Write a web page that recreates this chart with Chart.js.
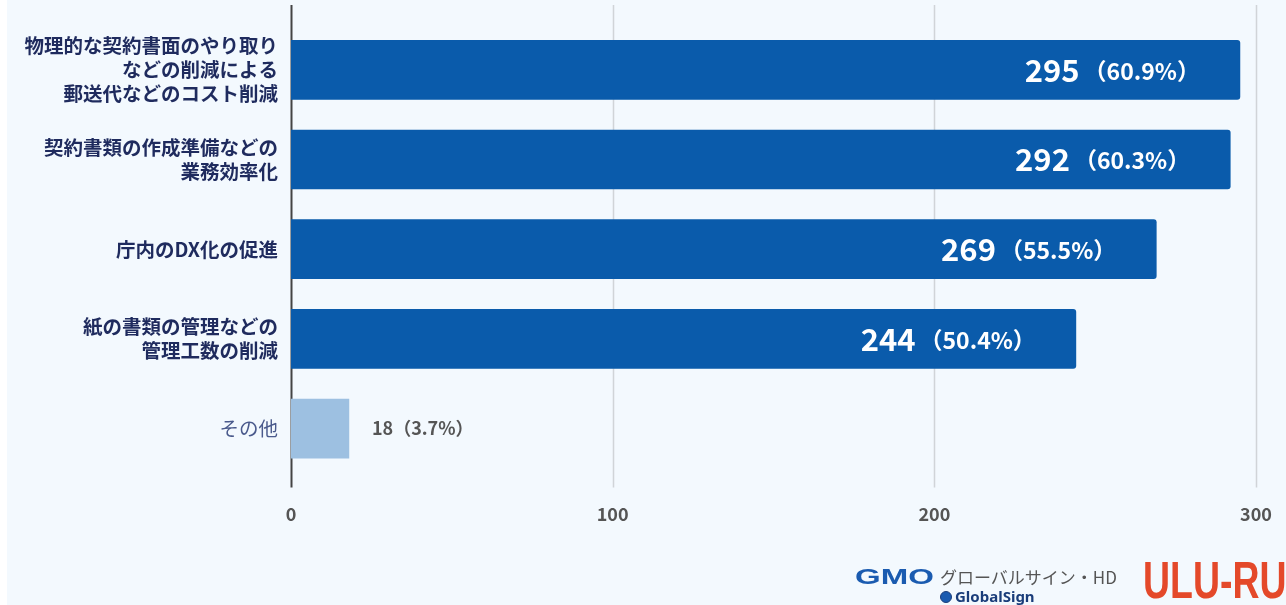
<!DOCTYPE html>
<html>
<head>
<meta charset="utf-8">
<script src="https://cdn.jsdelivr.net/npm/chart.js@4.4.1/dist/chart.umd.min.js"></script>
<style>
  html, body { margin: 0; padding: 0; background: #ffffff; }
  #wrap { position: absolute; left: 7px; top: 0; width: 1279px; height: 605px; background: #f3f9fe; overflow: hidden; }
  #box { position: absolute; left: -7px; top: 0; width: 1286px; height: 565px; }
  #wrap div { white-space: nowrap; }
  .gmo { position: absolute; left: 848px; top: 564px; font-family: "Liberation Sans", sans-serif; font-weight: bold; font-size: 22px; color: #1a5bb0; transform: scaleX(1.5); transform-origin: left top; }
  .gs-jp { position: absolute; left: 933px; top: 564px; font-family: "Noto Sans CJK JP", sans-serif; font-size: 17px; color: #555; }
  .gs-en { position: absolute; left: 933px; top: 586px; font-family: "Noto Sans", sans-serif; font-weight: bold; font-size: 15px; color: #1a3d7a; }
  .gs-en span { display: inline-block; width: 10px; height: 10px; border-radius: 50%; background: #1a5bb0; border: 1px solid #1a3d7a; margin-right: 3px; vertical-align: -1px; }
  .uluru { position: absolute; left: 1136px; top: 550px; font-family: "Liberation Sans", sans-serif; font-weight: bold; font-size: 52px; color: #e4492a; transform: scaleX(0.72); transform-origin: left top; }
</style>
</head>
<body>
<div id="wrap">
  <div id="box"><canvas id="chart"></canvas></div>
  <div class="gmo">GMO</div>
  <div class="gs-jp">グローバルサイン・HD</div>
  <div class="gs-en"><span></span>GlobalSign</div>
  <div class="uluru">ULU-RU</div>
</div>
<script>
// data
const categories = [
    ['物理的な契約書面のやり取り', 'などの削減による', '郵送代などのコスト削減'],
    ['契約書類の作成準備などの', '業務効率化'],
    ['庁内のDX化の促進'],
    ['紙の書類の管理などの', '管理工数の削減'],
    ['その他']
];
const counts = [295, 292, 269, 244, 18];
const percents = ['60.9', '60.3', '55.5', '50.4', '3.7'];
const xTicks = [0, 100, 200, 300];

const DARK = '#0a5bab';
const LIGHT = '#9dc0e1';
const JP = '"Noto Sans CJK JP", "Noto Sans", sans-serif';

// vertical grid lines extend a little past the plot area
const gridPlugin = {
    id: 'longGrid',
    beforeDatasetsDraw(chart) {
        const { ctx, chartArea, scales } = chart;
        ctx.save();
        xTicks.forEach(v => {
            const x = Math.round(scales.x.getPixelForValue(v)) + 0.5;
            ctx.beginPath();
            ctx.strokeStyle = v === 0 ? '#444444' : '#d0d4d8';
            ctx.lineWidth = v === 0 ? 2 : 1.5;
            ctx.moveTo(x, chartArea.top - 20);
            ctx.lineTo(x, chartArea.bottom + 14);
            ctx.stroke();
        });
        ctx.restore();
    }
};

// value labels on the bars
const valuePlugin = {
    id: 'values',
    afterDatasetsDraw(chart) {
        const { ctx } = chart;
        const meta = chart.getDatasetMeta(0);
        ctx.save();
        ctx.textBaseline = 'middle';
        meta.data.forEach((bar, i) => {
            const num = String(counts[i]);
            const pct = '（' + percents[i] + '%）';
            if (i < 4) {
                ctx.font = 'bold 23px ' + JP;
                const pw = ctx.measureText(pct).width;
                const right = bar.x - 40;
                ctx.fillStyle = '#ffffff';
                ctx.textAlign = 'right';
                ctx.fillText(pct, right, bar.y + 1);
                ctx.font = 'bold 31px ' + JP;
                ctx.fillText(num, right - pw - 4, bar.y);
            } else {
                ctx.fillStyle = '#555555';
                ctx.textAlign = 'left';
                ctx.font = 'bold 18px ' + JP;
                ctx.fillText(num + pct, bar.x + 23, bar.y);
            }
        });
        ctx.restore();
    }
};

new Chart(document.getElementById('chart'), {
    type: 'bar',
    data: {
        labels: categories,
        datasets: [{
            data: counts,
            backgroundColor: counts.map((v, i) => i < 4 ? DARK : LIGHT),
            borderRadius: counts.map((v, i) => i < 4 ? 3 : 0),
            borderSkipped: 'start',
            barThickness: 59
        }]
    },
    plugins: [gridPlugin, valuePlugin],
    options: {
        indexAxis: 'y',
        responsive: true,
        maintainAspectRatio: false,
        animation: false,
        layout: { padding: { top: 25, right: 30, bottom: 10, left: 0 } },
        plugins: {
            legend: { display: false },
            tooltip: { enabled: false }
        },
        scales: {
            x: {
                min: 0,
                max: 300,
                afterBuildTicks(scale) { scale.ticks = xTicks.map(v => ({ value: v })); },
                afterFit(scale) { scale.paddingLeft = 0; scale.paddingRight = 0; },
                grid: { display: false, drawTicks: false },
                border: { display: false },
                ticks: {
                    padding: 30,
                    color: '#555555',
                    font: { family: JP, size: 18, weight: 'bold' }
                }
            },
            y: {
                afterFit(scale) { scale.width = 291; },
                grid: { display: false, drawTicks: false },
                border: { display: false },
                ticks: {
                    padding: 13,
                    color: ctx => ctx.index === 4 ? '#4a5a8c' : '#1f2b5e',
                    font: ctx => ({ family: JP, size: 19.5, weight: ctx.index === 4 ? 'normal' : 'bold', lineHeight: 1.22 })
                }
            }
        }
    }
});
</script>
</body>
</html>
